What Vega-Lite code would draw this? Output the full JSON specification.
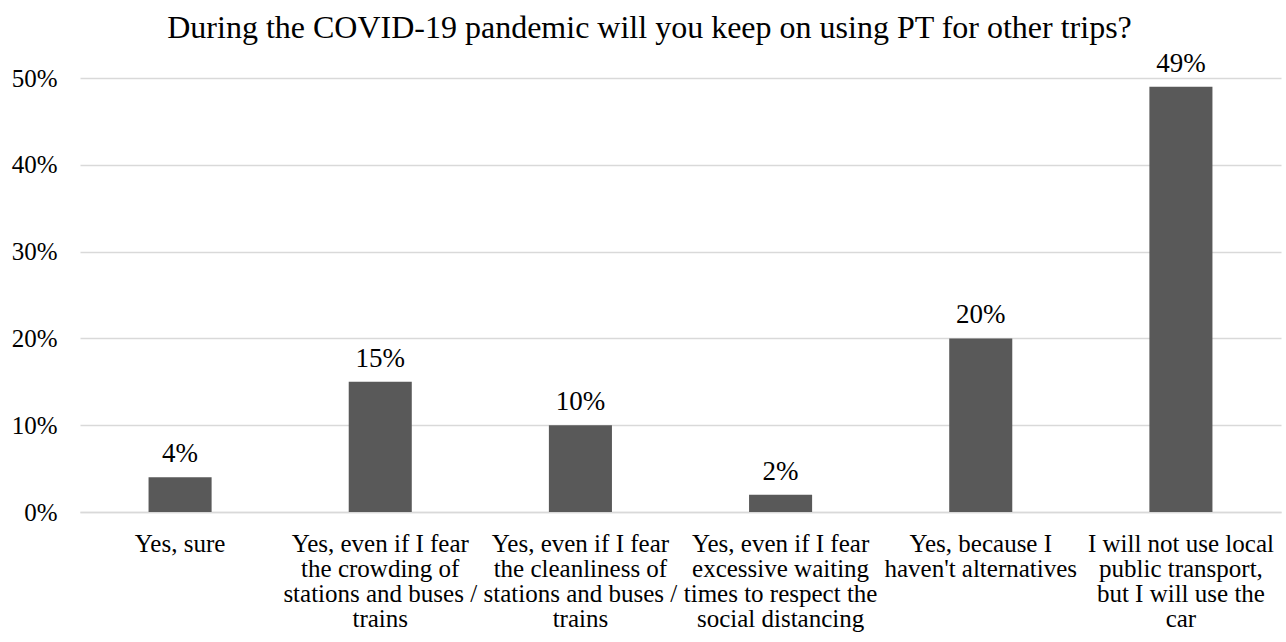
{
  "$schema": "https://vega.github.io/schema/vega-lite/v6.json",
  "width": 1201,
  "height": 434,
  "autosize": {"type": "none"},
  "padding": {"left": 80, "top": 78, "right": 5, "bottom": 130},
  "background": "white",
  "title": {
    "text": "During the COVID-19 pandemic will you keep on using PT for other trips?",
    "font": "Liberation Serif",
    "fontSize": 32,
    "fontWeight": "normal",
    "color": "#000000",
    "anchor": "middle",
    "dx": -31,
    "offset": 5
  },
  "data": {
    "values": [
      {"answer": "Yes, sure", "share": 0.04, "label": "4%"},
      {"answer": "Yes, even if I fear|the crowding of|stations and buses /|trains", "share": 0.15, "label": "15%"},
      {"answer": "Yes, even if I fear|the cleanliness of|stations and buses /|trains", "share": 0.10, "label": "10%"},
      {"answer": "Yes, even if I fear|excessive waiting|times to respect the|social distancing", "share": 0.02, "label": "2%"},
      {"answer": "Yes, because I|haven't alternatives", "share": 0.20, "label": "20%"},
      {"answer": "I will not use local|public transport,|but I will use the|car", "share": 0.49, "label": "49%"}
    ]
  },
  "config": {
    "view": {"stroke": null},
    "font": "Liberation Serif"
  },
  "encoding": {
    "x": {
      "field": "answer",
      "type": "nominal",
      "sort": null,
      "scale": {"paddingInner": 0.685, "paddingOuter": 0.3425},
      "axis": {
        "title": null,
        "labelAngle": 0,
        "labelExpr": "split(datum.value, '|')",
        "labelFont": "Liberation Serif",
        "labelFontSize": 25,
        "labelLineHeight": 25,
        "labelColor": "#000000",
        "labelPadding": 19,
        "labelLimit": 0,
        "ticks": false,
        "domain": true,
        "domainColor": "#d9d9d9",
        "domainWidth": 1.5,
        "grid": false
      }
    },
    "y": {
      "field": "share",
      "type": "quantitative",
      "scale": {"domain": [0, 0.5], "nice": false},
      "axis": {
        "title": null,
        "format": ".0%",
        "values": [0, 0.1, 0.2, 0.3, 0.4, 0.5],
        "labelFont": "Liberation Serif",
        "labelFontSize": 25,
        "labelColor": "#000000",
        "labelPadding": 23,
        "ticks": false,
        "domain": false,
        "grid": true,
        "gridColor": "#d9d9d9",
        "gridWidth": 1.5
      }
    }
  },
  "layer": [
    {"mark": {"type": "bar", "color": "#595959"}},
    {
      "mark": {"type": "text", "baseline": "alphabetic", "dy": -15, "fontSize": 27, "fontWeight": "normal", "font": "Liberation Serif", "color": "#000000"},
      "encoding": {"text": {"field": "label"}}
    }
  ]
}
